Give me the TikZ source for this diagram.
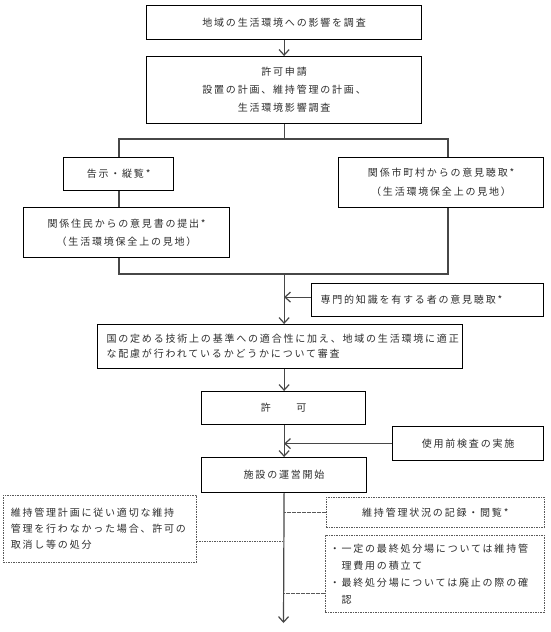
\documentclass[tikz,border=0pt]{standalone}
\usepackage{fontspec}
\newfontfamily\jp[LetterSpace=18]{Noto Sans CJK JP}
\usetikzlibrary{arrows.meta,calc}
\begin{document}
\begin{tikzpicture}[x=1pt,y=-1pt,
  jpfont/.style={font=\jp\fontsize{10}{17}\selectfont, text=black!82},
  box/.style={jpfont, draw=black, line width=1.2pt, inner sep=0pt, anchor=north west, align=center},
  lbox/.style={box, align=left},
  dbox/.style={jpfont, draw=black!65, line width=0.6pt, dash pattern=on 1.6pt off 0.9pt, inner sep=0pt, anchor=north west, align=left},
  conn/.style={line width=1.2pt, draw=black!72},
  arr/.style={conn, -{Straight Barb[length=5.5pt,width=10pt,line width=1.2pt]}},
  dconn/.style={draw=black!65, line width=0.6pt, dash pattern=on 1.6pt off 0.9pt}]
\fill[white] (0,0) rectangle (551,632);
\useasboundingbox (0,0) rectangle (551,632);

\node[box, minimum width=275pt, minimum height=34pt] (top) at (146,5) {地域の生活環境への影響を調査};
\node[box, minimum width=275pt, minimum height=67pt, font=\jp\fontsize{10}{18}\selectfont] (apply) at (146,56) {許可申請\\設置の計画、維持管理の計画、\\生活環境影響調査};
\node[box, minimum width=110pt, minimum height=33pt] (notice) at (63,157) {告示・縦覧*};
\node[box, minimum width=206pt, minimum height=50pt, font=\jp\fontsize{10}{18}\selectfont] (resid) at (23,207) {関係住民からの意見書の提出*\\（生活環境保全上の見地）};
\node[box, minimum width=205pt, minimum height=50pt, font=\jp\fontsize{10}{19}\selectfont] (city) at (338,157) {関係市町村からの意見聴取*\\（生活環境保全上の見地）};
\node[lbox, inner xsep=9pt, text width=214pt, minimum height=33pt] (expert) at (311,283) {専門的知識を有する者の意見聴取*};
\node[lbox, inner xsep=9pt, text width=347pt, minimum height=44pt, font=\jp\fontsize{10}{15}\selectfont] (review) at (97,324) {国の定める技術上の基準への適合性に加え、地域の生活環境に適正\\な配慮が行われているかどうかについて審査};
\node[box, minimum width=164pt, minimum height=33pt] (permit) at (201,391) {許　　可};
\node[box, minimum width=151pt, minimum height=34pt] (inspect) at (392,426) {使用前検査の実施};
\node[box, minimum width=165pt, minimum height=35pt] (start) at (201,457) {施設の運営開始};
\node[dbox, inner xsep=7.5pt, text width=178pt, minimum height=67pt, font=\jp\fontsize{10}{16}\selectfont] (cancel) at (3,495) {維持管理計画に従い適切な維持\\管理を行わなかった場合、許可の\\取消し等の処分};
\node[dbox, align=center, minimum width=218pt, minimum height=30pt] (record) at (326,497) {維持管理状況の記録・閲覧*};
\node[dbox, inner xsep=4.5pt, text width=210pt, minimum height=77pt] (fund) at (325,535) {・一定の最終処分場については維持管\\　理費用の積立て\\・最終処分場については廃止の際の確\\　認};

\coordinate (bl) at (119,139);
\coordinate (br) at (448,139);
\coordinate (jl) at (119,274);
\coordinate (jr) at (448,274);
\coordinate (end) at (283.5,623);

\draw[arr] (top.south) -- (apply.north);
\draw[conn] (apply.south) -- (apply.south |- bl);
\draw[conn] (notice.north -| bl) -- (bl) -- (br) -- (br |- city.north);
\draw[conn] (notice.south -| bl) -- (resid.north -| bl);
\draw[conn] (resid.south -| jl) -- (jl) -- (jr) -- (city.south -| jr);
\draw[arr] (jl -| top.south) -- (review.north -| top.south);
\draw[arr] ([yshift=3pt]expert.west) -- ([yshift=3pt]expert.west -| top.south);
\draw[arr] (review.south -| top.south) -- (permit.north -| top.south);
\draw[arr] (permit.south -| top.south) -- (start.north -| top.south);
\draw[arr] (inspect.west) -- (inspect.west -| top.south);
\draw[arr] (start.south) -- (end);
\draw[dconn] (record.west) -- (record.west -| start.south);
\draw[dconn] ([yshift=-12.5pt]cancel.east) -- ([yshift=-12.5pt]cancel.east -| start.south);
\draw[dconn] ([yshift=-19.5pt]fund.west) -- ([yshift=-19.5pt]fund.west -| start.south);
\end{tikzpicture}
\end{document}
